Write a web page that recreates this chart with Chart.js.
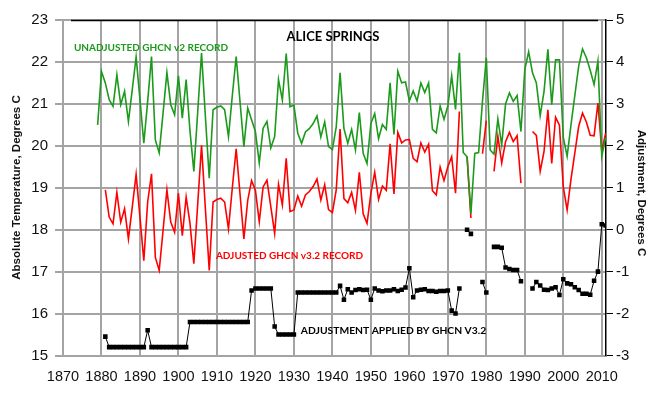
<!DOCTYPE html>
<html>
<head>
<meta charset="utf-8">
<script src="https://cdn.jsdelivr.net/npm/chart.js@4.4.1/dist/chart.umd.min.js"></script>
<style>
  html, body { margin: 0; padding: 0; background: #ffffff; }
  canvas { display: block; }
</style>
</head>
<body>
<canvas id="c" width="657" height="396"></canvas>
<script>
// ---- DATA ----
const firstYear = 1879;
const lastYear = 2011;
const years = [];
for (let y = firstYear; y <= lastYear; y++) years.push(y);

// Unadjusted GHCN v2 record (left axis, deg C), 1879..2011
const unadjusted = [
  20.5,
  21.77, 21.5, 21.1, 20.94, 21.69, 20.98, 21.3, 20.58, 21.34, 22.12,
  21.1, 20.06, 21.06, 22.13, 20.14, 19.83, 20.78, 21.75, 20.98, 20.74,
  21.67, 20.66, 21.58, 20.35, 19.39, 20.8, 22.21, 20.7, 19.23, 20.86,
  20.92, 20.95, 20.86, 20.22, 21.2, 22.13, 21.05, 19.98, 20.9, 20.62,
  20.34, 19.59, 20.42, 20.58, 19.95, 20.22, 21.58, 21.09, 22.2, 20.93,
  20.97, 20.3, 20.06, 20.33, 20.41, 20.53, 20.71, 20.21, 20.57, 19.98,
  19.91, 20.45, 21.74, 20.41, 20.06, 20.39, 19.9, 20.79, 19.82, 19.58,
  20.53, 20.77, 20.17, 20.51, 20.39, 21.5, 20.27, 21.78, 21.5, 21.52,
  21.07, 21.31, 21.07, 21.5, 21.27, 21.5, 20.39, 20.31, 20.95, 20.63,
  20.95, 21.67, 20.87, 22.22, 19.84, 19.74, 18.38, 19.82, 19.84, 21.06,
  22.1, 19.9, 19.8, 20.64, 20.02, 21.0, 21.26, 21.06, 21.2, 20.34,
  21.82, 22.24, 21.74, 21.5, 20.72, 21.3, 22.3, 20.98, 22.05, 22.05,
  20.2, 19.75, 20.5, 21.2, 21.9, 22.31, 22.1, 21.8, 21.46, 22.02,
  19.75, 20.2
];

// Adjusted GHCN v3.2 record (left axis, deg C), 1879..2011
const adjusted = [
  null,
  null, 18.95, 18.3, 18.14, 18.89, 18.18, 18.5, 17.78, 18.54, 19.32,
  18.3, 17.26, 18.66, 19.33, 17.34, 17.03, 17.98, 18.95, 18.18, 17.94,
  18.87, 17.86, 18.78, 18.15, 17.19, 18.6, 20.01, 18.5, 17.03, 18.66,
  18.72, 18.75, 18.66, 18.02, 19.0, 19.93, 18.85, 17.78, 18.7, 19.17,
  18.94, 18.19, 19.02, 19.18, 18.55, 17.91, 19.08, 18.59, 19.7, 18.43,
  18.47, 18.8, 18.56, 18.83, 18.91, 19.03, 19.21, 18.71, 19.07, 18.48,
  18.41, 18.95, 20.4, 18.74, 18.64, 18.89, 18.46, 19.37, 18.38, 18.15,
  18.86, 19.37, 18.72, 19.04, 18.94, 20.05, 18.85, 20.32, 20.07, 20.14,
  20.15, 19.7, 19.62, 20.07, 19.85, 20.04, 18.93, 18.83, 19.49, 19.17,
  19.5, 19.74, 18.87, 20.82, null, 19.74, 18.28, null, null, 19.81,
  20.6, null, 19.39, 20.23, 19.59, 20.1, 20.32, 20.1, 20.24, 19.11,
  null, null, 20.34, 20.25, 19.39, 19.87, 20.86, 19.58, 20.68, 20.49,
  19.02, 18.47, 19.2, 19.83, 20.46, 20.78, 20.57, 20.25, 20.24, 21.02,
  19.88, 20.3
];

// Adjustment applied by GHCN v3.2 (right axis, deg C), 1879..2011
const adjustment = [
  null,
  null, -2.55, -2.8, -2.8, -2.8, -2.8, -2.8, -2.8, -2.8, -2.8,
  -2.8, -2.8, -2.4, -2.8, -2.8, -2.8, -2.8, -2.8, -2.8, -2.8,
  -2.8, -2.8, -2.8, -2.2, -2.2, -2.2, -2.2, -2.2, -2.2, -2.2,
  -2.2, -2.2, -2.2, -2.2, -2.2, -2.2, -2.2, -2.2, -2.2, -1.45,
  -1.4, -1.4, -1.4, -1.4, -1.4, -2.31, -2.5, -2.5, -2.5, -2.5,
  -2.5, -1.5, -1.5, -1.5, -1.5, -1.5, -1.5, -1.5, -1.5, -1.5,
  -1.5, -1.5, -1.34, -1.67, -1.42, -1.5, -1.44, -1.42, -1.44, -1.43,
  -1.67, -1.4, -1.45, -1.47, -1.45, -1.45, -1.42, -1.46, -1.43, -1.38,
  -0.92, -1.61, -1.45, -1.43, -1.42, -1.46, -1.46, -1.48, -1.46, -1.46,
  -1.45, -1.93, -2.0, -1.4, null, 0.0, -0.1, null, null, -1.25,
  -1.5, null, -0.41, -0.41, -0.43, -0.9, -0.94, -0.96, -0.96, -1.23,
  null, null, -1.4, -1.25, -1.33, -1.43, -1.44, -1.4, -1.37, -1.56,
  -1.18, -1.28, -1.3, -1.37, -1.44, -1.53, -1.53, -1.55, -1.22, -1.0,
  0.13, 0.1
];

const xTicks = [1870, 1880, 1890, 1900, 1910, 1920, 1930, 1940, 1950, 1960, 1970, 1980, 1990, 2000, 2010];
const leftTicks = [15, 16, 17, 18, 19, 20, 21, 22, 23];
const rightTicks = [-3, -2, -1, 0, 1, 2, 3, 4, 5];

const chartTitle = 'ALICE SPRINGS';
const leftTitle = 'Absolute Temperature, Degrees C';
const rightTitle = 'Adjustment, Degrees C';
const labelUnadj = 'UNADJUSTED GHCN v2 RECORD';
const labelAdj = 'ADJUSTED GHCN v3.2 RECORD';
const labelAdjust = 'ADJUSTMENT APPLIED BY GHCN V3.2';

// ---- STYLE ----
const GREEN = '#1b9a1b';
const RED = '#ff0000';
const GRID = '#a4a4a4';
const TICKFONT = { family: '"Liberation Sans", Arial, sans-serif', size: 15 };

const pts = (arr) => years.map((y, i) => ({ x: y, y: arr[i] }));

const textPlugin = {
  id: 'texts',
  afterDraw(chart) {
    const ctx = chart.ctx;
    const area = chart.chartArea;
    ctx.save();
    // black top border segment
    ctx.strokeStyle = '#000';
    ctx.lineWidth = 1.5;
    ctx.beginPath();
    ctx.moveTo(71, area.top + 0.5);
    ctx.lineTo(598, area.top + 0.5);
    ctx.stroke();

    ctx.textBaseline = 'middle';
    ctx.textAlign = 'center';
    // chart title
    ctx.fillStyle = '#000';
    ctx.font = 'bold 13px Lato, "Open Sans", sans-serif';
    ctx.fillText(chartTitle, 333, 37);
    // series labels
    ctx.font = 'bold 10px Lato, "Open Sans", sans-serif';
    ctx.fillStyle = GREEN;
    ctx.fillText(labelUnadj, 151, 48);
    ctx.fillStyle = RED;
    ctx.fillText(labelAdj, 289.5, 255.5);
    ctx.font = 'bold 10.3px Lato, "Open Sans", sans-serif';
    ctx.fillStyle = '#000';
    ctx.fillText(labelAdjust, 393.5, 331);

    // axis titles
    ctx.font = 'bold 11.5px "Liberation Sans", Arial, sans-serif';
    ctx.fillStyle = '#111';
    ctx.save();
    ctx.translate(17, 187.5);
    ctx.rotate(-Math.PI / 2);
    ctx.fillText(leftTitle, 0, 0);
    ctx.restore();
    ctx.save();
    ctx.translate(641, 193);
    ctx.rotate(Math.PI / 2);
    ctx.fillText(rightTitle, 0, 0);
    ctx.restore();
    ctx.restore();
  }
};

new Chart(document.getElementById('c'), {
  type: 'line',
  data: {
    datasets: [
      {
        label: labelUnadj,
        data: pts(unadjusted),
        yAxisID: 'yL',
        borderColor: GREEN,
        borderWidth: 1.6,
        pointRadius: 0,
        tension: 0,
        spanGaps: false
      },
      {
        label: labelAdj,
        data: pts(adjusted),
        yAxisID: 'yL',
        borderColor: RED,
        borderWidth: 1.6,
        pointRadius: 0,
        tension: 0,
        spanGaps: false
      },
      {
        label: labelAdjust,
        data: pts(adjustment),
        yAxisID: 'yR',
        borderColor: '#000',
        borderWidth: 1,
        pointStyle: 'rect',
        pointRadius: 3.2,
        pointBackgroundColor: '#000',
        pointBorderColor: '#000',
        pointBorderWidth: 0,
        tension: 0,
        spanGaps: false
      }
    ]
  },
  options: {
    responsive: false,
    animation: false,
    events: [],
    layout: { padding: { top: 20, left: 0, right: 0, bottom: 0 } },
    plugins: { legend: { display: false }, tooltip: { enabled: false } },
    scales: {
      x: {
        type: 'linear',
        min: 1870,
        max: 2011.1,
        afterBuildTicks: (s) => { s.ticks = xTicks.map(v => ({ value: v })); },
        afterFit: (s) => { s.height = 40.5; },
        grid: { color: GRID, lineWidth: 2, drawTicks: false },
        border: { display: true, color: GRID, width: 2 },
        ticks: {
          font: { family: TICKFONT.family, size: 14.5 },
          color: '#111',
          padding: 13,
          maxRotation: 0,
          autoSkip: false,
          callback: (v) => String(v)
        }
      },
      yL: {
        position: 'left',
        min: 15,
        max: 23,
        afterBuildTicks: (s) => { s.ticks = leftTicks.map(v => ({ value: v })); },
        afterFit: (s) => { s.width = 63; },
        grid: { color: GRID, lineWidth: 2, tickLength: 8 },
        border: { display: true, color: GRID, width: 2 },
        ticks: { font: TICKFONT, color: '#111', padding: 7, callback: (v) => String(v) }
      },
      yR: {
        position: 'right',
        min: -3,
        max: 5,
        afterBuildTicks: (s) => { s.ticks = rightTicks.map(v => ({ value: v })); },
        afterFit: (s) => { s.width = 51; },
        grid: { drawOnChartArea: false, color: '#000', lineWidth: 1, tickLength: 7 },
        border: { display: true, color: '#000', width: 1.5 },
        ticks: { font: TICKFONT, color: '#111', padding: 3, callback: (v) => String(v) }
      }
    }
  },
  plugins: [textPlugin]
});
</script>
</body>
</html>
